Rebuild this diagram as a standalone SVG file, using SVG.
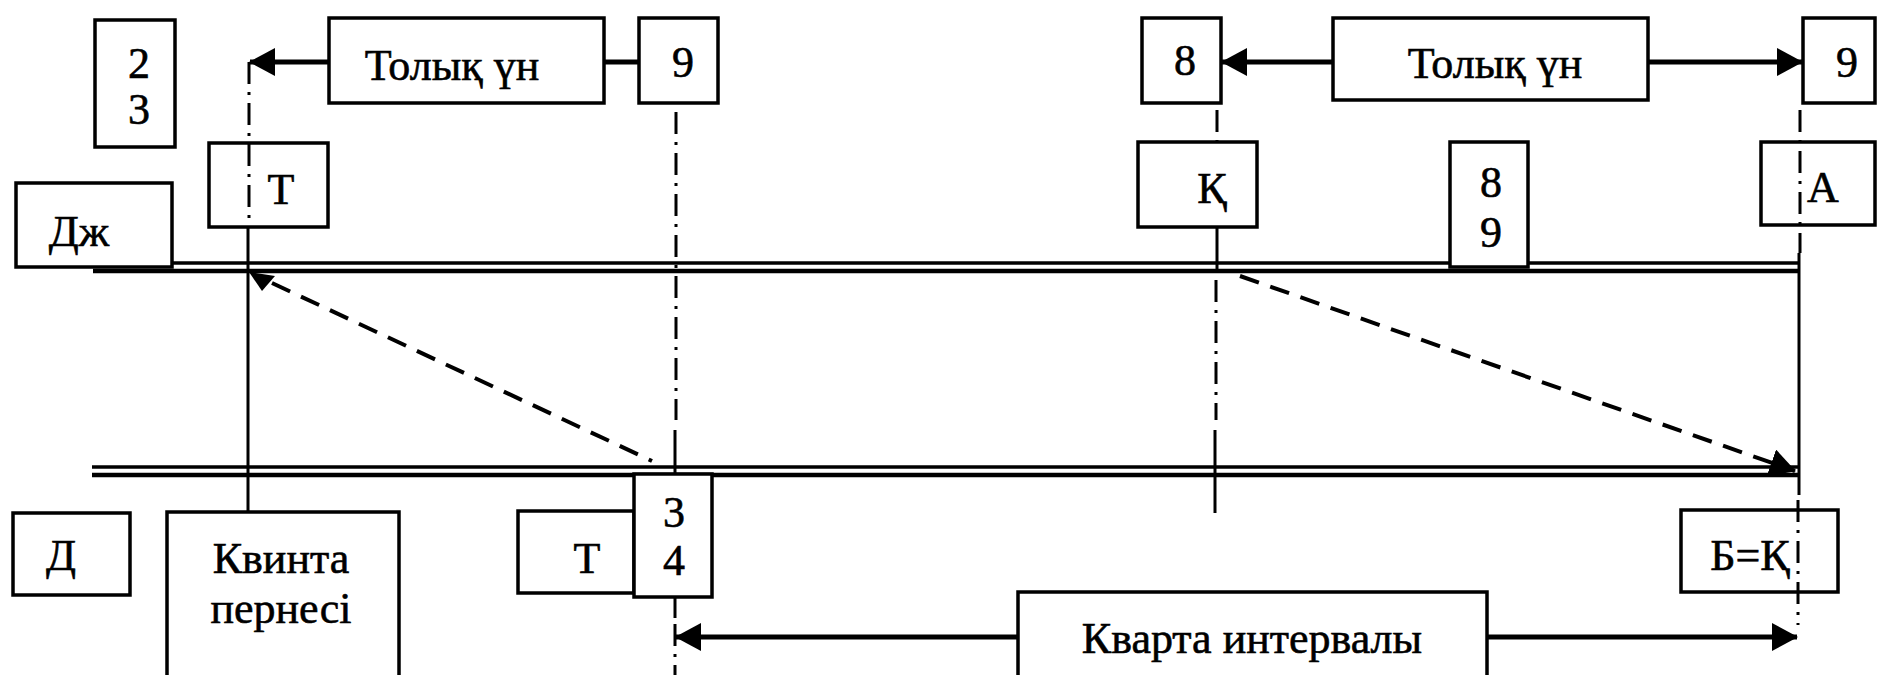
<svg xmlns="http://www.w3.org/2000/svg" width="1877" height="675" viewBox="0 0 1877 675">
<style>
.box{fill:#fff;stroke:#000;stroke-width:3.5}
.t{font-family:'Liberation Serif','Times New Roman',serif;font-size:44px;fill:#000;stroke:#000;stroke-width:0.6;text-anchor:middle}
.rail{stroke:#000;fill:none}
.arr{stroke:#000;stroke-width:5;fill:none}
.dd{stroke:#000;stroke-width:3;fill:none;stroke-dasharray:22 8 3 8}
.sol{stroke:#000;stroke-width:3;fill:none}
.dash{stroke:#000;stroke-width:4;fill:none;stroke-dasharray:20 12}
</style>
<defs>
<marker id="ah" markerUnits="userSpaceOnUse" markerWidth="26" markerHeight="28" viewBox="0 0 26 28" refX="25" refY="14" orient="auto">
<path d="M0,0 L26,14 L0,28 z" fill="#000"/>
</marker>
</defs>
<rect width="1877" height="675" fill="#fff"/>
<g id="rails">
<line class="rail" x1="172" y1="263" x2="1799" y2="263" stroke-width="3.5"/>
<line class="rail" x1="93" y1="271" x2="1799" y2="271" stroke-width="4.5"/>
<line class="rail" x1="92" y1="467" x2="1799" y2="467" stroke-width="3.5"/>
<line class="rail" x1="92" y1="475" x2="1799" y2="475" stroke-width="4.5"/>
</g>
<g id="n23"><rect class="box" x="95" y="20" width="80" height="127"/><text class="t" x="139" y="78">2</text><text class="t" x="139" y="124">3</text></g>
<g id="nDzh"><rect class="box" x="16" y="183" width="156" height="84"/><text class="t" x="79" y="246">Дж</text></g>
<g id="nT1"><rect class="box" x="209" y="143" width="119" height="84"/><text class="t" x="281" y="204">Т</text></g>
<g id="nTon1"><rect class="box" x="329" y="18" width="275" height="85"/><text class="t" x="452" y="80">Толық үн</text></g>
<g id="n9a"><rect class="box" x="639" y="18" width="79" height="85"/><text class="t" x="683" y="77">9</text></g>
<g id="n8"><rect class="box" x="1142" y="18" width="79" height="85"/><text class="t" x="1185" y="75">8</text></g>
<g id="nTon2"><rect class="box" x="1333" y="18" width="315" height="82"/><text class="t" x="1495" y="78">Толық үн</text></g>
<g id="n9b"><rect class="box" x="1803" y="18" width="72" height="85"/><text class="t" x="1847" y="77">9</text></g>
<g id="nQ"><rect class="box" x="1138" y="142" width="119" height="85"/><text class="t" x="1212" y="203">Қ</text></g>
<g id="n89"><rect class="box" x="1450" y="142" width="78" height="125"/><text class="t" x="1491" y="197">8</text><text class="t" x="1491" y="247">9</text></g>
<g id="nA"><rect class="box" x="1761" y="142" width="114" height="83"/><text class="t" x="1823" y="202">А</text></g>
<g id="nD"><rect class="box" x="13" y="513" width="117" height="82"/><text class="t" x="61" y="570">Д</text></g>
<g id="nKv"><rect class="box" x="167" y="512" width="232" height="175"/><text class="t" x="281" y="573">Квинта</text><text class="t" x="281" y="623">пернесі</text></g>
<g id="nT2"><rect class="box" x="518" y="511" width="116" height="82"/><text class="t" x="587" y="573">Т</text></g>
<g id="n34"><rect class="box" x="634" y="474" width="78" height="123"/><text class="t" x="674" y="527">3</text><text class="t" x="674" y="575">4</text></g>
<g id="nBQ"><rect class="box" x="1681" y="510" width="157" height="82"/><text class="t" x="1750" y="570">Б=Қ</text></g>
<g id="nKvarta"><rect class="box" x="1018" y="592" width="469" height="95"/><text class="t" x="1252" y="653">Кварта интервалы</text></g>
<g id="connectors">
<line class="arr" x1="329" y1="62" x2="250" y2="62" marker-end="url(#ah)"/>
<line class="arr" x1="604" y1="62" x2="639" y2="62"/>
<line class="arr" x1="1333" y1="62" x2="1222" y2="62" marker-end="url(#ah)"/>
<line class="arr" x1="1648" y1="62" x2="1802" y2="62" marker-end="url(#ah)"/>
<line class="arr" x1="1018" y1="637" x2="676" y2="637" marker-end="url(#ah)"/>
<line class="arr" x1="1487" y1="637" x2="1797" y2="637" marker-end="url(#ah)"/>
<line class="dd" x1="249" y1="62" x2="249" y2="227"/>
<line class="sol" x1="248" y1="227" x2="248" y2="512"/>
<line class="dd" x1="676" y1="112" x2="676" y2="420"/>
<line class="sol" x1="675" y1="430" x2="675" y2="474"/>
<line class="sol" x1="675" y1="597" x2="675" y2="618"/>
<line class="dd" x1="675" y1="624" x2="675" y2="675"/>
<line class="dd" x1="1217" y1="110" x2="1217" y2="142"/>
<line class="sol" x1="1217" y1="227" x2="1217" y2="272"/>
<line class="dd" x1="1216" y1="280" x2="1216" y2="420"/>
<line class="sol" x1="1215" y1="430" x2="1215" y2="513"/>
<line class="dd" x1="1800" y1="110" x2="1800" y2="253"/>
<line class="sol" x1="1799" y1="253" x2="1799" y2="495"/>
<line class="dd" x1="1798" y1="500" x2="1798" y2="625"/>
<polygon points="249,272 275,276 262,291" fill="#000"/>
<line class="dash" x1="272" y1="283" x2="652" y2="461"/>
<line class="dash" x1="1240" y1="276" x2="1795" y2="471" marker-end="url(#ah)"/>
</g>
</svg>
